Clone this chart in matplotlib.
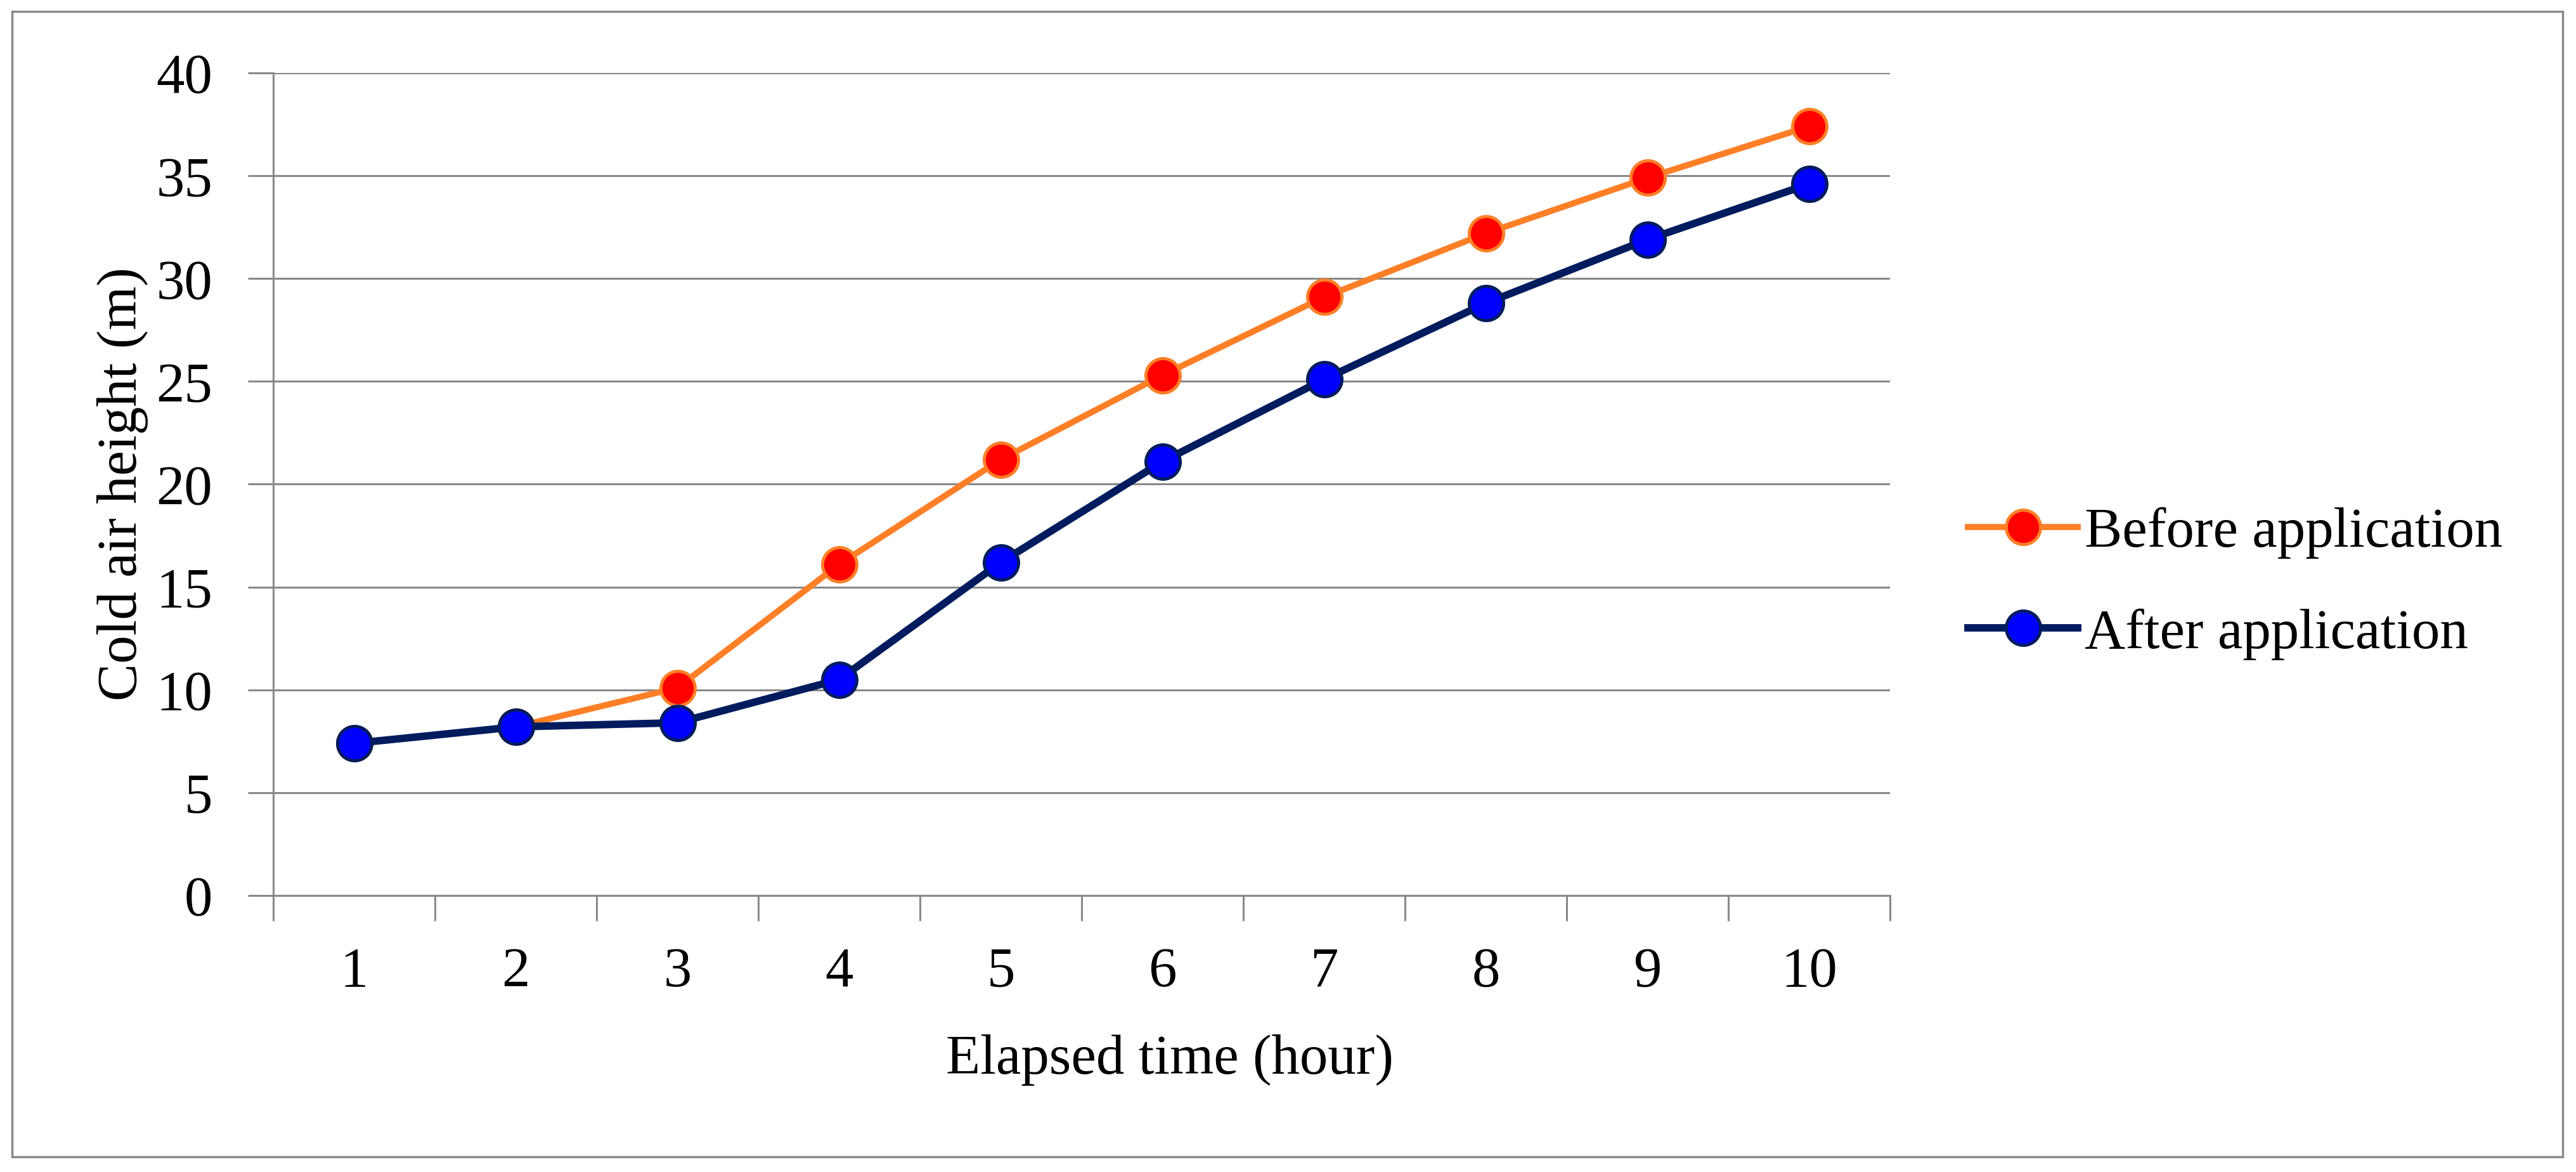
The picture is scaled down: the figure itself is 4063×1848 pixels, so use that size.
import numpy as np
import matplotlib
matplotlib.use("Agg")
import matplotlib.pyplot as plt
from matplotlib.patches import Rectangle

# data
hours = [1, 2, 3, 4, 5, 6, 7, 8, 9, 10]
before = [7.4, 8.2, 10.1, 16.1, 21.2, 25.3, 29.1, 32.2, 34.9, 37.4]
after = [7.4, 8.2, 8.4, 10.5, 16.2, 21.1, 25.1, 28.8, 31.9, 34.6]
y_ticks = [0, 5, 10, 15, 20, 25, 30, 35, 40]

plt.rcParams['font.family'] = ['Liberation Serif', 'DejaVu Serif']
fs = 64
grid_c = '#898989'

W, H = 4063, 1848
fig = plt.figure(figsize=(W / 100, H / 100), dpi=100)
ax = fig.add_axes([431 / W, 1 - 1412 / H, 2550 / W, 1297 / H])

x = np.arange(len(hours))
ax.plot(x, before, color='#FF7F27', lw=7, marker='o', ms=39,
        mfc='#FF0000', mec='#FF7F27', mew=3.5, label='Before application', zorder=3)
ax.plot(x, after, color='#001B5E', lw=8.5, marker='o', ms=39,
        mfc='#0000FF', mec='#001B5E', mew=3.5, label='After application', zorder=4)

ax.set_xlim(-0.5, len(hours) - 0.5)
ax.set_ylim(0, 40)

# category axis: ticks on boundaries, labels in the middle
ax.set_xticks(np.arange(-0.5, len(hours), 1.0))
ax.set_xticklabels([])
ax.set_xticks(x, minor=True)
ax.set_xticklabels([str(h) for h in hours], minor=True, fontsize=fs)
ax.tick_params(axis='x', which='major', length=29, width=2.2, color=grid_c, direction='out')
ax.tick_params(axis='x', which='minor', length=0, pad=58)

ax.set_yticks(y_ticks)
ax.set_yticklabels([str(v) for v in y_ticks], fontsize=fs)
ax.tick_params(axis='y', length=29, width=2.2, color=grid_c, direction='out', pad=40)

ax.yaxis.grid(True, color=grid_c, lw=2.2)
ax.set_axisbelow(True)
for s in ['top', 'right']:
    ax.spines[s].set_visible(False)
for s in ['left', 'bottom']:
    ax.spines[s].set_color(grid_c)
    ax.spines[s].set_linewidth(2.2)

ax.set_xlabel('Elapsed time (hour)', fontsize=fs)
ax.xaxis.set_label_coords(0.5545, -0.2)
ax.xaxis.label.set_va('center')
ax.set_ylabel('Cold air height (m)', fontsize=fs)
ax.yaxis.set_label_coords(-0.0933, 0.5)
ax.yaxis.label.set_va('center')

fig.legend(loc='center left', bbox_to_anchor=(3104 / W, 1 - 920 / H),
           frameon=False, fontsize=fs, handlelength=1.95, handletextpad=0.12,
           labelspacing=0.88, borderpad=0, borderaxespad=0)

# outer frame
fig.patches.append(Rectangle((19 / W, 1 - 1824 / H), (4042 - 19) / W, (1824 - 18) / H,
                             transform=fig.transFigure, fill=False,
                             edgecolor=grid_c, lw=2.5))

fig.savefig('out.png', dpi=100, facecolor='white')
